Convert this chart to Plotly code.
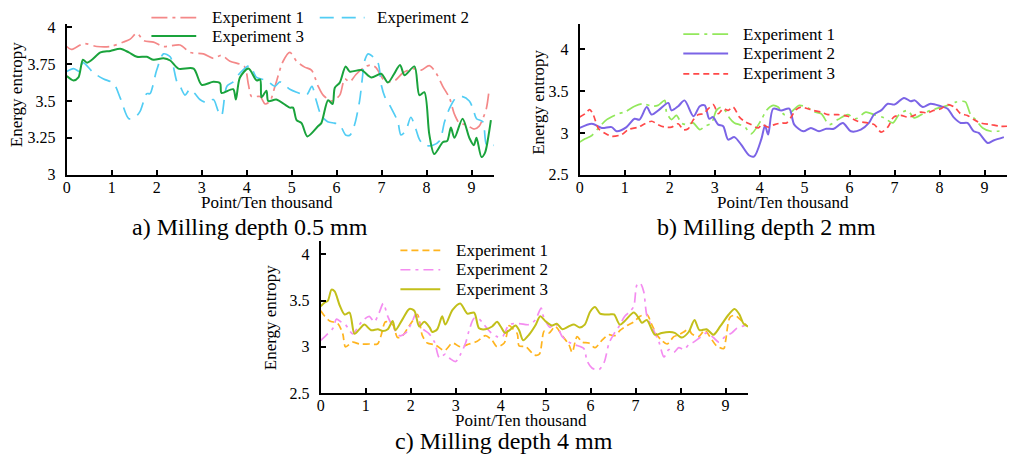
import plotly.graph_objects as go

W, H = 1010, 463
FONT = "Liberation Serif, Times New Roman, Tinos, serif"

# ---------------- Panel a: milling depth 0.5 mm ----------------
a_exp1_x = [0,0.1,0.38,0.67,0.97,1.26,1.41,1.56,1.71,1.93,2.15,2.52,2.74,3.04,3.26,3.44,3.63,3.85,3.96,4.04,4.11,4.3,4.41,4.52,4.63,4.81,4.96,5.11,5.29,5.44,5.59,5.7,5.9,6.07,6.18,6.29,6.43,6.62,6.77,6.88,7.03,7.14,7.3,7.47,7.69,7.88,8.06,8.21,8.36,8.51,8.62,8.73,8.87,9.06,9.17,9.25,9.33,9.38]
a_exp1_y = [3.87,3.85,3.89,3.87,3.87,3.9,3.92,3.96,3.91,3.9,3.87,3.88,3.83,3.82,3.79,3.81,3.77,3.75,3.73,3.61,3.53,3.53,3.48,3.5,3.6,3.77,3.83,3.77,3.73,3.71,3.6,3.54,3.5,3.54,3.65,3.63,3.68,3.73,3.745,3.725,3.65,3.63,3.64,3.69,3.72,3.71,3.74,3.69,3.6,3.52,3.41,3.35,3.34,3.31,3.33,3.38,3.45,3.55]

a_exp2_x = [0,0.15,0.3,0.36,0.6,0.82,1.04,1.19,1.38,1.52,1.63,1.78,1.85,2.0,2.15,2.3,2.45,2.52,2.63,2.74,2.85,2.96,3.11,3.26,3.37,3.44,3.56,3.7,3.85,4.07,4.22,4.44,4.63,4.74,4.96,5.11,5.33,5.45,5.55,5.66,5.8,5.95,6.07,6.2,6.3,6.4,6.51,6.57,6.62,6.7,6.81,6.92,7.0,7.07,7.2,7.36,7.43,7.54,7.65,7.76,7.84,7.95,8.14,8.29,8.4,8.51,8.65,8.8,8.95,9.03,9.11,9.25,9.34,9.5]
a_exp2_y = [3.70,3.72,3.70,3.76,3.69,3.65,3.62,3.52,3.38,3.39,3.43,3.55,3.55,3.71,3.82,3.80,3.63,3.6,3.54,3.58,3.55,3.51,3.49,3.51,3.43,3.40,3.6,3.63,3.69,3.74,3.66,3.64,3.6,3.63,3.58,3.56,3.54,3.6,3.5,3.4,3.36,3.35,3.34,3.27,3.27,3.34,3.5,3.65,3.77,3.82,3.8,3.76,3.6,3.53,3.46,3.36,3.27,3.3,3.39,3.31,3.24,3.2,3.2,3.23,3.36,3.45,3.52,3.53,3.5,3.45,3.38,3.36,3.2,3.2]

a_exp3_x = [0,0.15,0.26,0.36,0.45,0.56,0.75,0.97,1.19,1.38,1.56,1.78,1.93,2.15,2.3,2.48,2.82,3.0,3.26,3.41,3.44,3.7,3.76,3.85,4.04,4.22,4.3,4.33,4.44,4.48,4.66,4.96,5.03,5.11,5.22,5.35,5.59,5.66,5.81,5.91,5.96,6.07,6.2,6.29,6.55,6.77,6.99,7.14,7.27,7.41,7.51,7.73,7.84,7.95,8.06,8.17,8.36,8.46,8.54,8.62,8.8,8.95,9.05,9.11,9.22,9.3,9.39,9.43]
a_exp3_y = [3.67,3.64,3.66,3.78,3.76,3.78,3.83,3.84,3.855,3.83,3.80,3.80,3.78,3.79,3.775,3.72,3.72,3.61,3.63,3.62,3.555,3.58,3.51,3.66,3.72,3.64,3.645,3.525,3.57,3.5,3.51,3.455,3.455,3.37,3.35,3.26,3.33,3.35,3.505,3.48,3.59,3.625,3.735,3.70,3.71,3.66,3.685,3.625,3.68,3.745,3.675,3.735,3.54,3.56,3.275,3.14,3.22,3.23,3.32,3.25,3.38,3.25,3.2,3.25,3.12,3.15,3.29,3.37]

# ---------------- Panel b: milling depth 2 mm ----------------
b_exp1_x = [0,0.12,0.27,0.42,0.6,0.86,1.0,1.22,1.41,1.6,1.74,1.89,1.93,2.04,2.15,2.26,2.37,2.52,2.67,2.78,2.93,3.04,3.15,3.26,3.33,3.44,3.55,3.66,3.81,4.04,4.15,4.3,4.41,4.55,4.7,4.88,5.08,5.22,5.37,5.55,5.74,5.96,6.14,6.36,6.54,6.77,6.96,7.1,7.29,7.44,7.63,7.8,7.98,8.18,8.36,8.51,8.58,8.69,8.8,8.96,9.14,9.43]
b_exp1_y = [2.89,2.93,2.97,3.06,3.16,3.23,3.25,3.32,3.35,3.32,3.33,3.39,3.25,3.16,3.21,3.12,3.1,3.12,3.04,3.08,3.12,3.27,3.31,3.25,3.18,3.12,3.1,3.08,2.99,3.16,3.27,3.33,3.31,3.22,3.25,3.33,3.3,3.25,3.23,3.1,3.16,3.22,3.17,3.25,3.22,3.18,3.12,3.22,3.27,3.18,3.23,3.27,3.3,3.33,3.37,3.38,3.37,3.22,3.16,3.06,3.02,3.03]

b_exp2_x = [0,0.27,0.49,0.71,0.82,1.04,1.22,1.33,1.49,1.6,1.77,1.97,2.04,2.19,2.33,2.53,2.67,2.78,2.88,2.96,3.08,3.19,3.3,3.44,3.59,3.77,3.88,4.04,4.12,4.19,4.3,4.48,4.66,4.77,4.97,5.14,5.32,5.48,5.65,5.85,6.03,6.25,6.43,6.54,6.7,6.85,7.0,7.21,7.36,7.45,7.63,7.8,8.03,8.18,8.31,8.47,8.62,8.76,8.87,9.07,9.2,9.43]
b_exp2_y = [3.06,3.11,3.06,3.07,3.02,3.07,3.17,3.16,3.31,3.22,3.28,3.36,3.27,3.32,3.39,3.2,3.32,3.33,3.17,3.19,3.1,3.08,2.92,2.95,2.86,2.73,2.72,2.93,3.09,2.98,3.29,3.27,3.29,3.1,3.02,3.06,3.02,3.05,3.05,3.12,3.02,3.04,3.12,3.22,3.27,3.35,3.34,3.42,3.38,3.39,3.31,3.35,3.32,3.29,3.19,3.12,3.12,3.02,3.0,2.88,2.91,2.95]

b_exp3_x = [0,0.12,0.22,0.3,0.42,0.55,0.71,0.93,1.08,1.3,1.45,1.6,1.74,1.89,2.04,2.19,2.3,2.41,2.53,2.64,2.75,2.86,2.97,3.08,3.19,3.3,3.41,3.55,3.66,3.81,3.97,4.05,4.19,4.33,4.48,4.6,4.7,4.81,4.92,5.07,5.19,5.37,5.52,5.74,5.96,6.18,6.4,6.55,6.7,6.85,6.98,7.14,7.29,7.44,7.58,7.73,7.87,8.03,8.18,8.33,8.47,8.62,8.76,8.91,9.14,9.36,9.5]
b_exp3_y = [3.19,3.23,3.28,3.22,3.05,3.0,2.96,2.98,3.04,3.07,3.11,3.14,3.1,3.07,3.07,3.11,3.04,3.05,3.16,3.22,3.23,3.29,3.34,3.23,3.29,3.27,3.31,3.19,3.14,3.1,3.06,3.1,3.07,3.1,3.12,3.12,3.19,3.28,3.31,3.29,3.27,3.25,3.22,3.22,3.2,3.14,3.12,3.1,3.01,3.07,3.19,3.21,3.19,3.21,3.25,3.24,3.27,3.29,3.34,3.31,3.23,3.21,3.16,3.12,3.1,3.08,3.08]

# ---------------- Panel c: milling depth 4 mm ----------------
c_exp1_x = [0,0.09,0.2,0.38,0.49,0.55,0.71,0.86,1.08,1.26,1.34,1.44,1.6,1.71,1.82,1.93,2.04,2.15,2.26,2.37,2.55,2.75,2.93,3.1,3.3,3.48,3.66,3.81,3.92,4.08,4.19,4.26,4.37,4.41,4.56,4.75,4.86,4.97,5.08,5.21,5.37,5.52,5.59,5.7,5.81,5.96,6.1,6.25,6.4,6.54,6.66,6.81,6.96,7.1,7.25,7.36,7.47,7.58,7.7,7.85,7.96,8.07,8.18,8.25,8.4,8.54,8.65,8.8,8.96,9.0,9.1,9.21,9.36,9.47]
c_exp1_y = [3.39,3.33,3.28,3.25,3.14,3.0,3.05,3.03,3.03,3.03,3.12,3.27,3.24,3.1,3.12,3.2,3.28,3.35,3.12,3.04,3.02,2.96,3.04,3.0,3.03,3.06,3.12,3.07,3.0,3.04,3.23,3.2,3.14,3.01,3.0,2.91,2.92,3.17,3.15,3.22,3.12,3.02,2.94,3.11,3.05,3.04,2.99,3.07,3.13,3.12,3.18,3.23,3.27,3.33,3.35,3.24,3.13,3.07,3.03,3.11,3.13,3.16,3.19,3.14,3.11,3.18,3.11,3.01,2.98,3.06,3.32,3.34,3.28,3.23]

c_exp2_x = [0,0.13,0.27,0.35,0.45,0.55,0.71,0.86,0.97,1.08,1.19,1.3,1.39,1.49,1.6,1.75,1.89,2.04,2.11,2.26,2.41,2.53,2.64,2.77,2.88,3.0,3.11,3.22,3.3,3.41,3.52,3.63,3.77,3.92,4.04,4.19,4.41,4.63,4.77,4.9,4.95,5.1,5.21,5.37,5.52,5.66,5.85,5.92,6.03,6.18,6.3,6.41,6.52,6.63,6.76,6.87,6.96,7.03,7.1,7.18,7.25,7.4,7.52,7.63,7.74,7.85,7.96,8.07,8.18,8.29,8.43,8.58,8.73,8.85,8.99,9.14,9.25,9.36,9.5]
c_exp2_y = [3.07,3.13,3.2,3.3,3.27,3.24,3.14,3.24,3.3,3.33,3.27,3.37,3.47,3.33,3.22,3.12,3.15,3.28,3.35,3.2,3.14,3.05,2.88,2.92,2.87,2.84,2.92,3.04,3.18,3.31,3.3,3.24,3.16,3.11,3.11,3.24,3.25,3.24,3.29,3.42,3.33,3.21,3.26,3.11,3.05,3.02,2.98,2.85,2.77,2.75,2.83,3.04,3.14,3.22,3.33,3.38,3.44,3.67,3.69,3.6,3.34,3.18,3.05,2.89,2.97,2.94,2.99,2.97,3.02,3.05,3.1,3.15,3.1,3.05,3.11,3.15,3.2,3.22,3.24]

c_exp3_x = [0,0.09,0.16,0.24,0.31,0.42,0.53,0.64,0.75,0.86,0.97,1.12,1.27,1.38,1.49,1.6,1.66,1.82,1.97,2.08,2.19,2.3,2.42,2.48,2.59,2.7,2.77,2.93,3.1,3.26,3.41,3.52,3.66,3.81,3.92,4.0,4.1,4.2,4.33,4.41,4.5,4.63,4.77,4.88,4.99,5.14,5.25,5.37,5.51,5.63,5.76,5.87,5.99,6.1,6.21,6.41,6.52,6.65,6.76,6.96,7.07,7.14,7.25,7.43,7.58,7.76,7.87,8.03,8.18,8.31,8.42,8.58,8.73,8.88,9.07,9.2,9.31,9.4,9.5]
c_exp3_y = [3.44,3.48,3.5,3.62,3.6,3.45,3.35,3.37,3.14,3.19,3.24,3.18,3.19,3.17,3.19,3.28,3.18,3.3,3.41,3.39,3.22,3.27,3.21,3.16,3.19,3.33,3.24,3.4,3.47,3.36,3.37,3.2,3.19,3.22,3.27,3.22,3.15,3.18,3.23,3.18,3.07,3.13,3.23,3.33,3.28,3.23,3.25,3.19,3.22,3.24,3.21,3.24,3.38,3.43,3.36,3.35,3.35,3.24,3.28,3.37,3.31,3.26,3.29,3.13,3.15,3.16,3.15,3.1,3.16,3.29,3.18,3.19,3.13,3.22,3.35,3.41,3.35,3.25,3.22]

x_ticks = [0, 1, 2, 3, 4, 5, 6, 7, 8, 9]
a_yticks = [3, 3.25, 3.5, 3.75, 4]
bc_yticks = [2.5, 3, 3.5, 4]
names = ["Experiment 1", "Experiment 2", "Experiment 3"]

fig = go.Figure()


def px_x(p):
    return p / W


def px_y(p):
    return 1 - p / H


def add(x, y, color, dash, name, xa, ya, width, leg_line, leg_text):
    fig.add_trace(go.Scatter(
        x=x, y=y, mode="lines", name=name, showlegend=False,
        line=dict(color=color, width=width, dash=dash, shape="spline", smoothing=0.8),
        xaxis=xa, yaxis=ya))
    # legend sample (drawn manually for exact placement)
    (x0, x1, yy) = leg_line
    fig.add_shape(type="line", xref="paper", yref="paper",
                  x0=px_x(x0), x1=px_x(x1), y0=px_y(yy), y1=px_y(yy),
                  line=dict(color=color, width=width, dash=dash))
    fig.add_annotation(text=name, x=px_x(leg_text), y=px_y(yy), xref="paper", yref="paper",
                       xanchor="left", yanchor="middle", showarrow=False,
                       font=dict(family=FONT, size=17, color="black"))


add(a_exp1_x, a_exp1_y, "#F48888", "16px,5px,3px,5px", names[0], "x", "y", 1.7, (148, 193, 13), 207)
add(a_exp2_x, a_exp2_y, "#52CDF4", "14px,8px", names[1], "x", "y", 1.7, (317, 362, 13), 372)
add(a_exp3_x, a_exp3_y, "#1AA33C", "solid", names[2], "x", "y", 2, (148, 193, 32), 207)

add(b_exp1_x, b_exp1_y, "#93E85C", "16px,5px,3px,5px", names[0], "x2", "y2", 1.7, (682, 727, 30), 740)
add(b_exp2_x, b_exp2_y, "#7B64E6", "solid", names[1], "x2", "y2", 2, (682, 727, 50), 740)
add(b_exp3_x, b_exp3_y, "#FF4848", "6px,4px", names[2], "x2", "y2", 1.7, (682, 727, 71), 740)

add(c_exp1_x, c_exp1_y, "#FFB41E", "7px,4px", names[0], "x3", "y3", 1.7, (398, 438, 253), 452)
add(c_exp2_x, c_exp2_y, "#F48CF0", "10px,5px,3px,5px", names[1], "x3", "y3", 1.7, (398, 438, 273), 452)
add(c_exp3_x, c_exp3_y, "#C2BF1A", "solid", names[2], "x3", "y3", 2, (398, 438, 293), 452)

axis_common = dict(showline=True, linecolor="black", linewidth=2, ticks="inside",
                   ticklen=5, tickwidth=1.5, tickcolor="black", showgrid=False,
                   zeroline=False, mirror=False,
                   tickfont=dict(family=FONT, size=16, color="black"))


def xaxis(dom, anchor):
    return dict(axis_common, domain=[px_x(dom[0]), px_x(dom[1])], range=[0, 9.5],
                tickvals=x_ticks, anchor=anchor, ticklabelstandoff=-3)


def yaxis(dom, rng, ticks, anchor):
    return dict(axis_common, domain=[px_y(dom[1]), px_y(dom[0])], range=rng,
                tickvals=ticks, anchor=anchor, ticklabelstandoff=6)


fig.update_layout(
    width=W, height=H, margin=dict(l=0, r=0, t=0, b=0),
    paper_bgcolor="white", plot_bgcolor="white", showlegend=False,
    font=dict(family=FONT, size=16, color="black"),
    xaxis=xaxis((63, 492), "y"),
    yaxis=yaxis((20, 175), [3, 4.02], a_yticks, "x"),
    xaxis2=xaxis((578, 1007), "y2"),
    yaxis2=yaxis((20, 175), [2.5, 4.3], bc_yticks, "x2"),
    xaxis3=xaxis((318, 747), "y3"),
    yaxis3=yaxis((243, 400), [2.5, 4.15], bc_yticks, "x3"),
)


def text(t, x, y, size, angle=0):
    fig.add_annotation(text=t, x=px_x(x), y=px_y(y), xref="paper", yref="paper",
                       xanchor="center", yanchor="middle", showarrow=False,
                       textangle=angle, font=dict(family=FONT, size=size, color="black"))


text("Energy entropy", 12, 92, 17, -90)
text("Energy entropy", 537, 100, 17, -90)
text("Energy entropy", 267, 322, 17, -90)
text("Point/Ten thousand", 264, 204, 17)
text("Point/Ten thousand", 782, 204, 17)
text("Point/Ten thousand", 519, 428, 17)
text("a) Milling depth 0.5 mm", 247, 229, 24)
text("b) Milling depth 2 mm", 766, 229, 24)
text("c) Milling depth 4 mm", 502, 450, 24)

fig.write_html("out.html")
